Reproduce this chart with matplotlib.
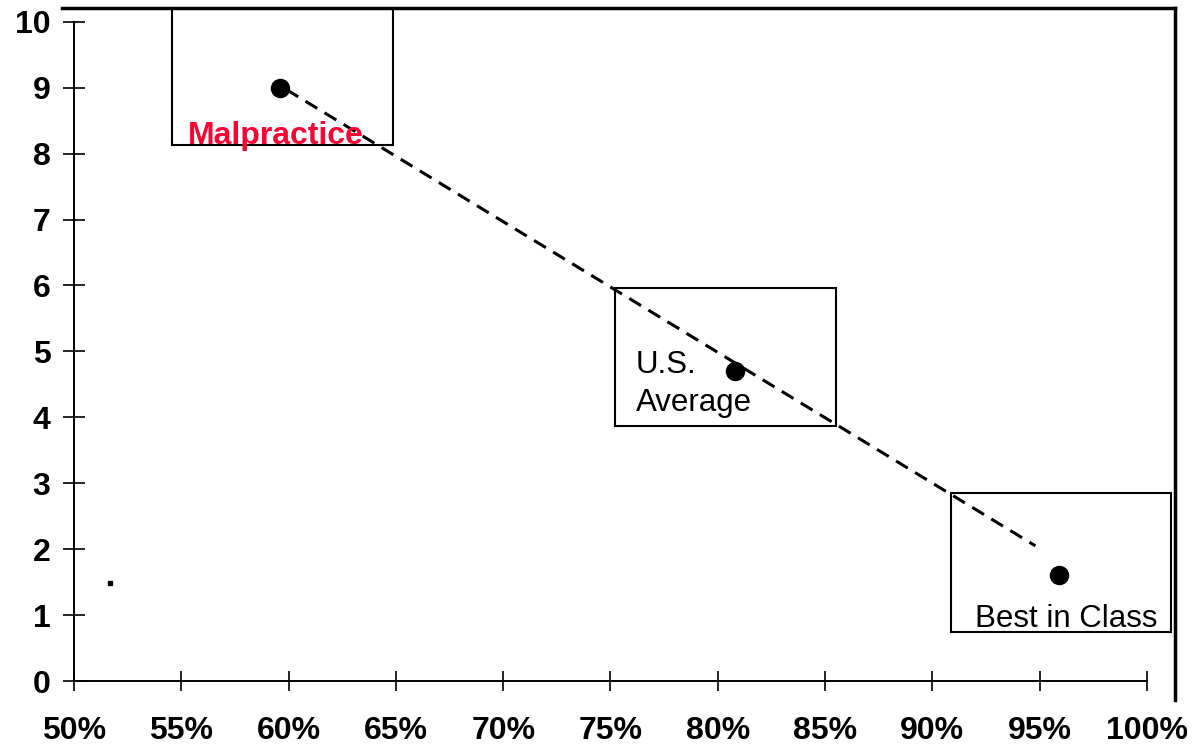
import matplotlib.pyplot as plt
from matplotlib.patches import Rectangle
from matplotlib.ticker import PercentFormatter

plt.rcParams['font.family'] = ['Liberation Sans', 'DejaVu Sans']

# points
labels = ["Malpractice", "U.S. Average", "Best in Class"]
x_vals = [0.596, 0.808, 0.959]
y_vals = [9.0, 4.70, 1.61]

# dashed trend line end points
trend_x = [0.599, 0.948]
trend_y = [8.97, 2.05]

# stray dot near the y axis
stray_x = [0.5168]
stray_y = [1.49]

x_ticks = [0.50, 0.55, 0.60, 0.65, 0.70, 0.75, 0.80, 0.85, 0.90, 0.95, 1.00]
y_ticks = [0, 1, 2, 3, 4, 5, 6, 7, 8, 9, 10]

fig = plt.figure(figsize=(11.93, 7.48), dpi=100)
ax = fig.add_axes([62 / 1193, 1 - 700 / 748, 1113 / 1193, 692 / 748])
ax.set_xlim(0.49441, 1.01305)
ax.set_ylim(-0.288, 10.208)

# annotation boxes (x0, y0, w, h)
boxes = [(0.5457, 8.13, 0.1029, 2.08), (0.7521, 3.87, 0.1030, 2.09), (0.9087, 0.74, 0.1025, 2.11)]
for b in boxes:
    ax.add_patch(Rectangle((b[0], b[1]), b[2], b[3], fill=False, edgecolor='black', lw=1.5, zorder=2))

ax.plot(trend_x, trend_y, color='black', lw=2.2, dashes=(4.5, 2.8), zorder=3)
ax.plot(x_vals, y_vals, 'o', color='black', markersize=13, zorder=4)
ax.plot(stray_x, stray_y, 's', color='black', markersize=2.5, zorder=4)

ax.text(0.5531, 8.15, labels[0], color='#FF0033', fontsize=23, fontweight='bold', ha='left', va='baseline', zorder=5)
ax.text(0.7619, 4.67, "U.S.", fontsize=22.5, ha='left', va='baseline', zorder=5)
ax.text(0.7619, 4.10, "Average", fontsize=22.5, ha='left', va='baseline', zorder=5)
ax.text(0.9199, 0.82, labels[2], fontsize=22.5, ha='left', va='baseline', zorder=5)

# axes styling
ax.spines['left'].set_position(('data', 0.5))
ax.spines['left'].set_bounds(0, 10)
ax.spines['bottom'].set_position(('data', 0))
ax.spines['bottom'].set_bounds(0.5, 1.0)
ax.spines['left'].set_linewidth(1.4)
ax.spines['bottom'].set_linewidth(1.4)
ax.spines['top'].set_linewidth(2.5)
ax.spines['right'].set_linewidth(2.5)

ax.set_xticks(x_ticks)
ax.set_yticks(y_ticks)
ax.xaxis.set_major_formatter(PercentFormatter(1.0, decimals=0))
ax.tick_params(axis='y', direction='inout', length=16, width=1.2, pad=9, labelsize=23)
ax.tick_params(axis='x', direction='inout', length=14, width=1.2, pad=18, labelsize=23)
for t in ax.get_xticklabels() + ax.get_yticklabels():
    t.set_fontweight('bold')

fig.savefig("out.png", dpi=100)
